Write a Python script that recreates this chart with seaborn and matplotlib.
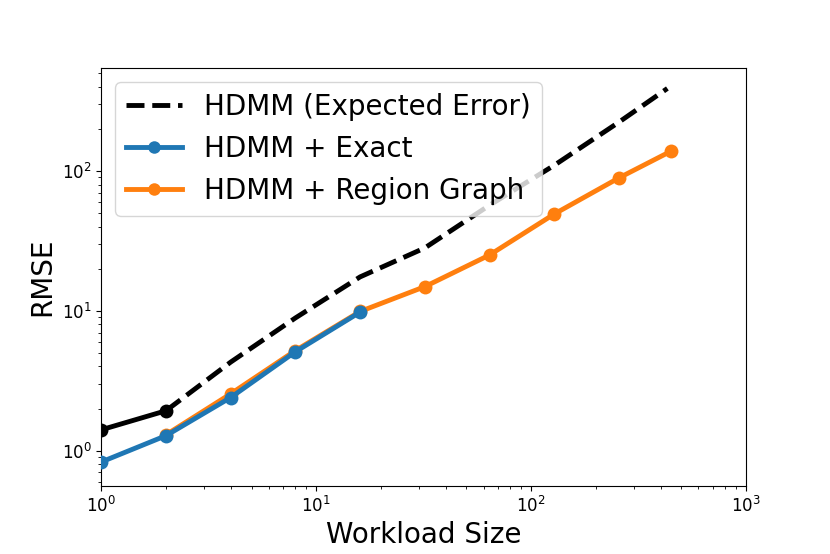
import matplotlib
matplotlib.use("Agg")
import matplotlib.pyplot as plt
import seaborn as sns

# workload sizes and RMSE values
sizes_expected = [2, 4, 8, 16, 32, 64, 128, 256, 430]
rmse_expected = [1.93, 4.3, 8.9, 17.5, 28.2, 57, 110, 224, 390]

sizes_start = [1, 2]
rmse_start = [1.41, 1.93]

sizes_exact = [1, 2, 4, 8, 16]
rmse_exact = [0.83, 1.28, 2.4, 5.1, 9.8]

sizes_region = [2, 4, 8, 16, 32, 64, 128, 256, 448]
rmse_region = [1.3, 2.55, 5.2, 9.9, 14.9, 25.1, 49.3, 89.4, 139]

fig, ax = plt.subplots(figsize=(8.3, 5.54), dpi=100)
fig.subplots_adjust(left=0.122, right=0.899, top=0.877, bottom=0.123)

lw = 3.5
ms = 10

sns.lineplot(x=sizes_expected, y=rmse_expected, color="black", linestyle="--",
             lw=lw, label="HDMM (Expected Error)", ax=ax)
sns.lineplot(x=sizes_start, y=rmse_start, color="black", marker="o", ms=ms,
             markeredgewidth=0, lw=lw, ax=ax)
sns.lineplot(x=sizes_exact, y=rmse_exact, color="#1f77b4", marker="o", ms=ms,
             markeredgewidth=0, lw=lw, label="HDMM + Exact", ax=ax, zorder=4)
sns.lineplot(x=sizes_region, y=rmse_region, color="#ff7f0e", marker="o", ms=ms,
             markeredgewidth=0, lw=lw, label="HDMM + Region Graph", ax=ax, zorder=3)

ax.set_xscale("log")
ax.set_yscale("log")
ax.set_xlim(1, 1000)
ax.set_ylim(0.56, 545)
ax.tick_params(labelsize=12)
ax.set_xlabel("Workload Size", fontsize=20)
ax.set_ylabel("RMSE", fontsize=20)

handles, labels = ax.get_legend_handles_labels()
ax.legend(handles, labels, loc="upper left", fontsize=20, markerscale=0.9)

fig.savefig("out.png", dpi=100)
